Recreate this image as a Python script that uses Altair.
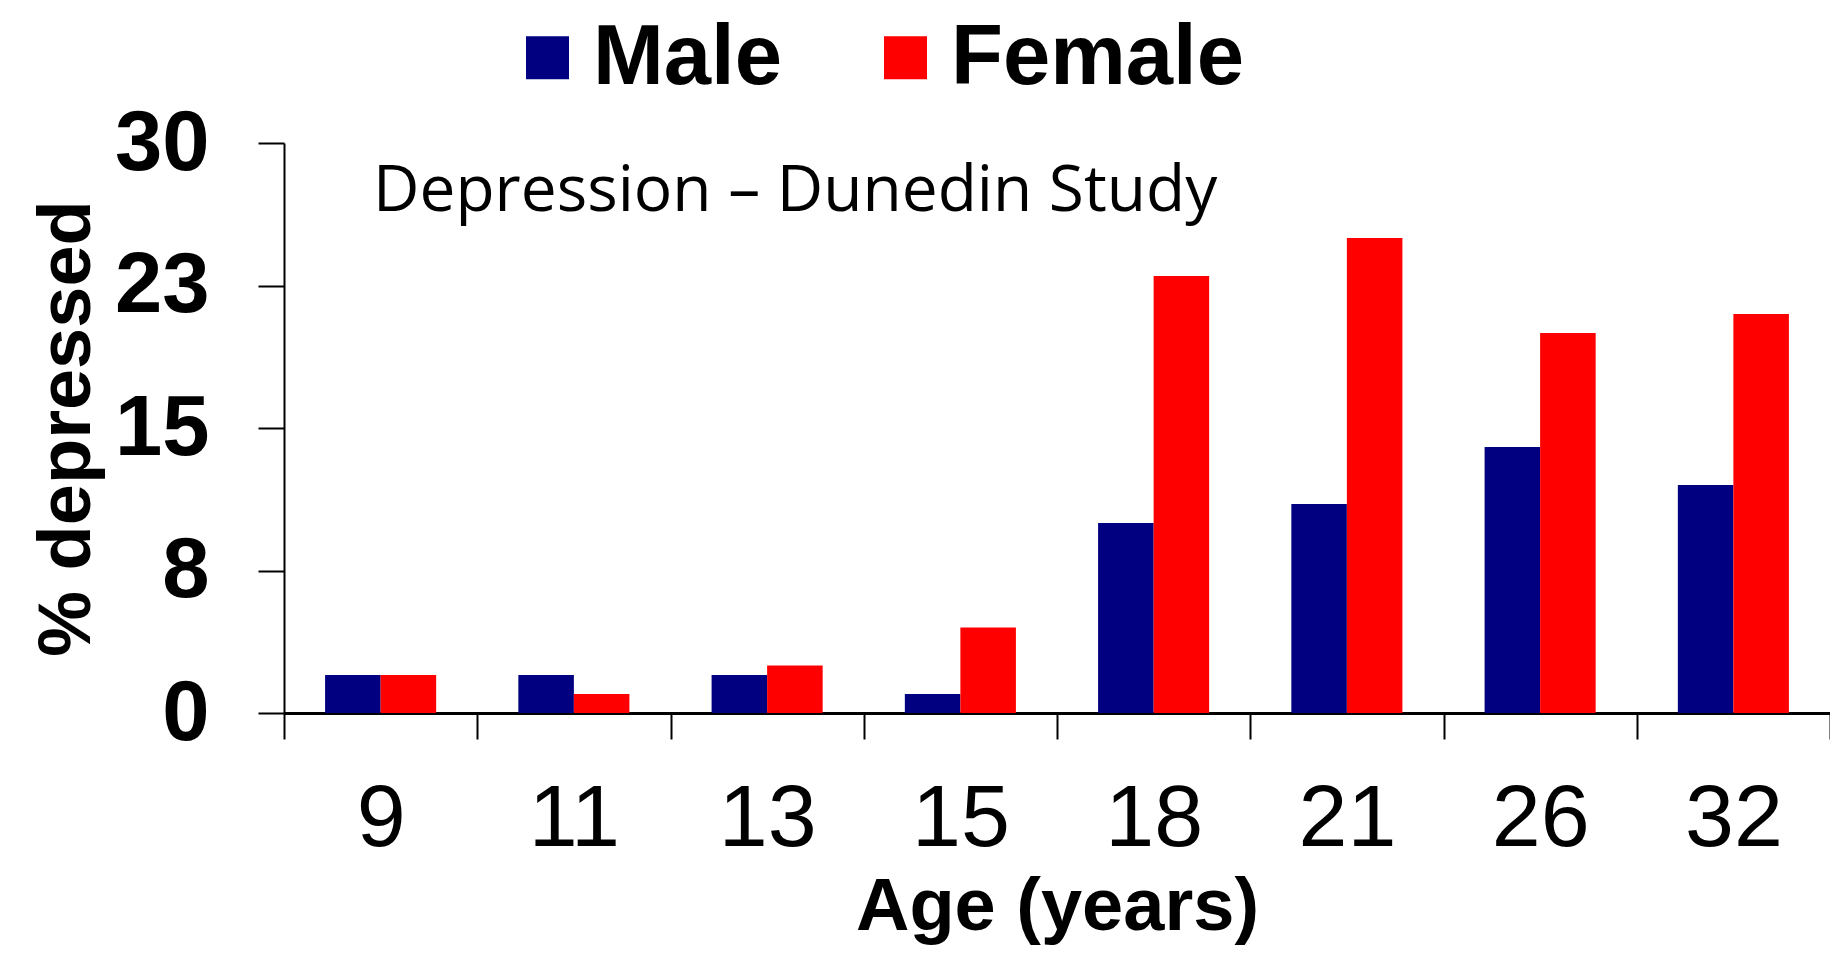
import altair as alt
import pandas as pd

ages = ["9", "11", "13", "15", "18", "21", "26", "32"]
male = [2, 2, 2, 1, 10, 11, 14, 12]
female = [2, 1, 2.5, 4.5, 23, 25, 20, 21]
sexes = ["Male", "Female"]
colors = ["#000080", "#FF0000"]
y_ticks = [0, 7.5, 15, 22.5, 30]
annotation = ["Depression \u2013 Dunedin Study"]

rows = []
for a, m, f in zip(ages, male, female):
    rows.append({"age": a, "sex": "Male", "pct": m})
    rows.append({"age": a, "sex": "Female", "pct": f})
df = pd.DataFrame(rows)

W, H = 1546, 570

bars = alt.Chart(df).mark_bar().encode(
    x=alt.X(
        "age:N",
        sort=ages,
        scale=alt.Scale(paddingInner=0, paddingOuter=0),
        axis=alt.Axis(
            title="Age (years)",
            labelAngle=0,
            tickBand="extent",
            grid=False,
            domainColor="black",
            domainWidth=3,
            tickColor="black",
            tickWidth=2,
            tickSize=26,
            labelFont="Liberation Sans",
            labelFontSize=88,
            labelColor="black",
            labelPadding=36,
            titleFont="Liberation Sans",
            titleFontWeight="bold",
            titleFontSize=74,
            titleColor="black",
            titlePadding=8,
        ),
    ),
    xOffset=alt.XOffset(
        "sex:N",
        sort=sexes,
        scale=alt.Scale(paddingInner=0, paddingOuter=0.74),
    ),
    y=alt.Y(
        "pct:Q",
        scale=alt.Scale(domain=[0, 30], nice=False),
        axis=alt.Axis(
            title="% depressed",
            values=y_ticks,
            labelExpr="round(datum.value)",
            grid=False,
            domainColor="black",
            domainWidth=2,
            tickColor="black",
            tickWidth=2,
            tickSize=26,
            labelFont="Liberation Sans",
            labelFontWeight="bold",
            labelFontSize=85,
            labelColor="black",
            labelPadding=49,
            titleFont="Liberation Sans",
            titleFontWeight="bold",
            titleFontSize=74,
            titleColor="black",
            titlePadding=9,
        ),
    ),
    color=alt.Color(
        "sex:N",
        sort=sexes,
        scale=alt.Scale(domain=sexes, range=colors),
        legend=alt.Legend(
            orient="none",
            legendX=221,
            legendY=-128,
            direction="horizontal",
            title=None,
            symbolType="square",
            symbolSize=1849,
            symbolStrokeWidth=0,
            symbolOpacity=1,
            labelFont="Liberation Sans",
            labelFontWeight="bold",
            labelFontSize=85,
            labelColor="black",
            labelOffset=3,
            labelLimit=2000,
            columnPadding=81,
            padding=0,
        ),
    ),
)

text = alt.Chart(pd.DataFrame({"label": annotation})).mark_text(
    align="left",
    baseline="alphabetic",
    font="Open Sans",
    fontSize=64,
    color="black",
).encode(
    x=alt.value(89),
    y=alt.value(68),
    text="label:N",
)

chart = alt.layer(bars, text).properties(
    width=W,
    height=H,
    autosize=alt.AutoSizeParams(type="none"),
    padding={"left": 276, "top": 135, "right": 0, "bottom": 233},
).configure_view(stroke=None)

chart.save("out.html", embed_options={"renderer": "svg", "actions": False})
